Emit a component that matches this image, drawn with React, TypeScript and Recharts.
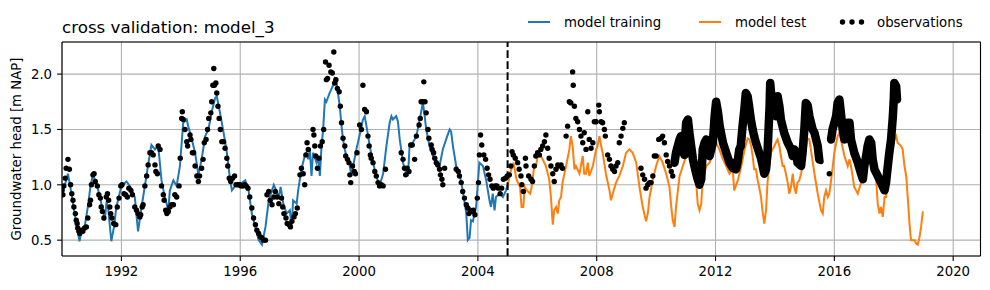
import React from 'react';
import { ComposedChart, Line, Scatter, XAxis, YAxis, CartesianGrid, ReferenceLine } from 'recharts';

// simulated heads (decimal year, m NAP)
const trainingSim: [number, number][] = [
  [1990.0, 0.9], [1990.1, 1.0], [1990.2, 1.1], [1990.3, 0.95], [1990.45, 0.7], [1990.59, 0.49], [1990.65, 0.58],
  [1990.75, 0.6], [1990.87, 0.8], [1990.96, 0.99], [1991.04, 1.09], [1991.15, 1.02], [1991.25, 0.92], [1991.35, 0.8],
  [1991.44, 0.68], [1991.5, 0.85], [1991.55, 0.8], [1991.66, 0.49], [1991.75, 0.62], [1991.83, 0.8], [1992.0, 0.99],
  [1992.17, 1.03], [1992.28, 0.99], [1992.45, 0.89], [1992.56, 0.58], [1992.68, 0.8], [1992.79, 0.99], [1992.9, 1.18],
  [1993.01, 1.36], [1993.13, 1.32], [1993.24, 1.35], [1993.35, 1.04], [1993.46, 0.89], [1993.58, 0.77], [1993.63, 0.95],
  [1993.75, 1.04], [1993.86, 0.99], [1993.97, 1.17], [1994.08, 1.56], [1994.2, 1.59], [1994.25, 1.53], [1994.37, 1.41],
  [1994.48, 1.29], [1994.59, 1.09], [1994.7, 1.23], [1994.82, 1.44], [1994.93, 1.5], [1995.04, 1.66], [1995.15, 1.78],
  [1995.21, 1.8], [1995.32, 1.65], [1995.44, 1.47], [1995.55, 1.29], [1995.66, 1.04], [1995.72, 0.95], [1995.83, 0.99],
  [1996.06, 1.02], [1996.17, 1.04], [1996.28, 0.95], [1996.39, 0.74], [1996.51, 0.62], [1996.62, 0.5], [1996.73, 0.46],
  [1996.85, 0.62], [1996.96, 0.86], [1997.13, 1.0], [1997.3, 0.89], [1997.36, 0.98], [1997.45, 0.83], [1997.56, 0.74],
  [1997.67, 0.77], [1997.73, 0.62], [1997.78, 0.86], [1997.9, 0.83], [1997.95, 0.95], [1998.06, 1.14], [1998.17, 1.26],
  [1998.23, 1.29], [1998.29, 1.23], [1998.34, 1.32], [1998.4, 1.08], [1998.45, 1.29], [1998.57, 1.2], [1998.62, 1.26],
  [1998.68, 1.08], [1998.73, 1.32], [1998.79, 1.5], [1998.85, 1.77], [1998.9, 1.75], [1999.01, 1.83], [1999.13, 1.9],
  [1999.18, 1.96], [1999.24, 1.93], [1999.29, 1.83], [1999.35, 1.71], [1999.41, 1.53], [1999.46, 1.41], [1999.52, 1.32],
  [1999.57, 1.26], [1999.69, 1.17], [1999.74, 1.08], [1999.8, 1.17], [1999.91, 1.32], [2000.02, 1.45], [2000.13, 1.59],
  [2000.19, 1.62], [2000.25, 1.53], [2000.36, 1.35], [2000.47, 1.2], [2000.58, 1.08], [2000.69, 0.99], [2000.81, 1.1],
  [2000.92, 1.35], [2001.03, 1.56], [2001.09, 1.62], [2001.14, 1.59], [2001.25, 1.62], [2001.31, 1.57], [2001.37, 1.41],
  [2001.48, 1.2], [2001.59, 1.1], [2001.65, 1.09], [2001.7, 1.35], [2001.81, 1.38], [2001.93, 1.44], [2002.04, 1.59],
  [2002.15, 1.74], [2002.21, 1.62], [2002.26, 1.5], [2002.37, 1.35], [2002.49, 1.26], [2002.6, 1.2], [2002.71, 1.17],
  [2002.82, 1.32], [2002.93, 1.41], [2003.05, 1.5], [2003.1, 1.48], [2003.16, 1.35], [2003.27, 1.17], [2003.38, 1.1],
  [2003.49, 0.95], [2003.61, 0.74], [2003.66, 0.5], [2003.72, 0.52], [2003.77, 0.68], [2003.83, 0.67], [2003.94, 0.8],
  [2004.05, 1.2], [2004.17, 1.17], [2004.28, 1.04], [2004.39, 0.86], [2004.44, 0.8], [2004.5, 0.92], [2004.56, 0.77],
  [2004.61, 0.89], [2004.73, 0.92], [2004.84, 0.89], [2004.95, 0.95], [2005.0, 1.0],
];

const testSim: [number, number][] = [
  [2005.0, 0.98], [2005.08, 1.1], [2005.2, 1.2], [2005.3, 1.05], [2005.42, 0.98], [2005.47, 0.8], [2005.53, 0.8],
  [2005.58, 0.98], [2005.65, 0.95], [2005.76, 0.92], [2005.81, 0.98], [2005.84, 1.05], [2005.9, 1.17], [2005.96, 1.17],
  [2006.01, 1.26], [2006.07, 1.29], [2006.18, 1.23], [2006.29, 1.17], [2006.4, 1.05], [2006.46, 0.89], [2006.52, 0.64],
  [2006.57, 0.77], [2006.63, 0.8], [2006.69, 0.74], [2006.74, 0.86], [2006.8, 0.89], [2006.85, 1.02], [2006.97, 1.17],
  [2007.08, 1.32], [2007.13, 1.44], [2007.19, 1.35], [2007.25, 1.14], [2007.3, 1.17], [2007.42, 1.1], [2007.53, 1.26],
  [2007.58, 1.1], [2007.64, 1.1], [2007.7, 1.2], [2007.75, 1.08], [2007.87, 1.17], [2007.98, 1.32], [2008.03, 1.35],
  [2008.09, 1.44], [2008.15, 1.35], [2008.2, 1.29], [2008.31, 1.1], [2008.43, 0.95], [2008.48, 0.86], [2008.54, 0.92],
  [2008.65, 1.02], [2008.76, 1.08], [2008.88, 1.17], [2008.99, 1.29], [2009.1, 1.32], [2009.21, 1.29], [2009.33, 1.2],
  [2009.44, 0.98], [2009.55, 0.8], [2009.66, 0.67], [2009.72, 0.74], [2009.78, 0.89], [2009.89, 1.05], [2010.0, 1.17],
  [2010.11, 1.26], [2010.22, 1.2], [2010.34, 1.1], [2010.45, 0.98], [2010.51, 0.8], [2010.56, 0.68], [2010.62, 0.62],
  [2010.67, 0.8], [2010.79, 1.08], [2010.9, 1.17], [2011.01, 1.26], [2011.12, 1.27], [2011.24, 1.17], [2011.35, 1.02],
  [2011.4, 0.83], [2011.46, 0.77], [2011.52, 0.83], [2011.57, 1.05], [2011.69, 1.17], [2011.8, 1.2], [2011.91, 1.29],
  [2012.02, 1.38], [2012.13, 1.32], [2012.25, 1.23], [2012.36, 1.17], [2012.47, 1.1], [2012.58, 1.14], [2012.63, 0.95],
  [2012.75, 1.04], [2012.87, 1.17], [2012.98, 1.32], [2013.08, 1.42], [2013.14, 1.41], [2013.2, 1.35], [2013.25, 1.26],
  [2013.3, 1.14], [2013.36, 1.14], [2013.42, 1.04], [2013.47, 0.98], [2013.53, 0.89], [2013.58, 0.77], [2013.64, 0.65],
  [2013.7, 0.77], [2013.75, 1.02], [2013.81, 1.17], [2013.87, 1.29], [2013.92, 1.32], [2013.98, 1.35], [2014.03, 1.38],
  [2014.09, 1.41], [2014.15, 1.35], [2014.2, 1.26], [2014.26, 1.17], [2014.31, 1.17], [2014.37, 1.1], [2014.43, 1.02],
  [2014.48, 0.92], [2014.54, 0.98], [2014.6, 1.1], [2014.65, 0.98], [2014.71, 0.92], [2014.76, 1.02], [2014.82, 1.04],
  [2014.88, 1.1], [2014.99, 1.26], [2015.1, 1.42], [2015.16, 1.41], [2015.21, 1.32], [2015.33, 1.1], [2015.44, 0.92],
  [2015.55, 0.77], [2015.61, 0.74], [2015.66, 0.89], [2015.72, 0.95], [2015.78, 0.89], [2015.83, 0.92], [2015.89, 1.04],
  [2016.0, 1.29], [2016.11, 1.44], [2016.17, 1.47], [2016.22, 1.41], [2016.34, 1.26], [2016.45, 1.17], [2016.51, 1.23],
  [2016.56, 1.17], [2016.67, 0.98], [2016.79, 0.92], [2016.9, 1.02], [2017.01, 1.1], [2017.12, 1.26], [2017.24, 1.32],
  [2017.35, 1.2], [2017.4, 1.08], [2017.46, 0.83], [2017.52, 0.74], [2017.57, 0.8], [2017.63, 0.71], [2017.69, 0.89],
  [2017.74, 0.89], [2017.8, 1.02], [2017.91, 1.23], [2018.02, 1.41], [2018.08, 1.44], [2018.13, 1.38], [2018.25, 1.35],
  [2018.3, 1.32], [2018.36, 1.17], [2018.42, 1.08], [2018.47, 0.89], [2018.53, 0.65], [2018.58, 0.5], [2018.7, 0.5],
  [2018.75, 0.47], [2018.81, 0.46], [2018.87, 0.53], [2018.92, 0.62], [2018.98, 0.76],
];

// manual observations (roughly fortnightly)
const observations: [number, number][] = [
  [1990.0, 0.95], [1990.03, 0.91], [1990.06, 0.99], [1990.11, 1.06], [1990.14, 1.15], [1990.2, 1.23], [1990.25, 1.14],
  [1990.29, 1.0], [1990.33, 0.92], [1990.37, 0.86], [1990.4, 0.8], [1990.45, 0.74], [1990.48, 0.68], [1990.51, 0.65],
  [1990.53, 0.61], [1990.57, 0.58], [1990.6, 0.56], [1990.65, 0.59], [1990.7, 0.58], [1990.76, 0.61], [1990.82, 0.62],
  [1990.87, 0.7], [1990.93, 0.82], [1990.96, 0.86], [1990.99, 1.0], [1991.04, 1.09], [1991.08, 1.1], [1991.12, 1.03],
  [1991.19, 0.99], [1991.24, 0.91], [1991.29, 0.88], [1991.32, 0.8], [1991.36, 0.76], [1991.41, 0.7], [1991.49, 0.89],
  [1991.53, 0.92], [1991.57, 0.86], [1991.61, 0.8], [1991.64, 0.74], [1991.68, 0.7], [1991.74, 0.65], [1991.81, 0.64],
  [1991.86, 0.8], [1991.92, 0.88], [1991.98, 0.99], [1992.02, 1.0], [1992.09, 0.92], [1992.14, 0.91], [1992.2, 0.89],
  [1992.25, 0.97], [1992.32, 0.95], [1992.37, 0.91], [1992.45, 0.8], [1992.51, 0.77], [1992.56, 0.74], [1992.62, 0.71],
  [1992.65, 0.73], [1992.7, 0.8], [1992.73, 0.82], [1992.79, 0.99], [1992.85, 1.08], [1992.9, 1.18], [1992.96, 1.29],
  [1993.01, 1.29], [1993.07, 1.27], [1993.13, 1.18], [1993.16, 1.12], [1993.21, 1.1], [1993.24, 1.35], [1993.3, 1.32],
  [1993.35, 0.99], [1993.41, 0.91], [1993.44, 0.86], [1993.49, 0.77], [1993.53, 0.74], [1993.58, 0.76], [1993.63, 0.8],
  [1993.69, 0.82], [1993.75, 0.82], [1993.8, 0.91], [1993.86, 0.89], [1993.94, 0.99], [1993.98, 1.24], [1994.03, 1.6],
  [1994.05, 1.66], [1994.08, 1.59], [1994.14, 1.5], [1994.2, 1.39], [1994.23, 1.35], [1994.31, 1.45], [1994.34, 1.41],
  [1994.39, 1.29], [1994.43, 1.29], [1994.48, 1.17], [1994.54, 1.08], [1994.59, 1.03], [1994.63, 1.08], [1994.7, 1.15],
  [1994.75, 1.23], [1994.79, 1.38], [1994.85, 1.41], [1994.9, 1.5], [1994.94, 1.6], [1995.01, 1.65], [1995.04, 1.75],
  [1995.08, 1.9], [1995.11, 2.05], [1995.13, 1.9], [1995.18, 1.92], [1995.21, 1.83], [1995.25, 1.71], [1995.29, 1.6],
  [1995.33, 1.5], [1995.38, 1.39], [1995.44, 1.39], [1995.49, 1.33], [1995.55, 1.24], [1995.58, 1.17], [1995.63, 1.06],
  [1995.68, 1.03], [1995.74, 1.06], [1995.81, 1.08], [1995.86, 1.0], [1995.92, 1.0], [1995.98, 1.0], [1996.03, 0.99],
  [1996.09, 0.99], [1996.15, 1.0], [1996.2, 0.99], [1996.26, 0.97], [1996.32, 0.89], [1996.39, 0.79], [1996.45, 0.7],
  [1996.51, 0.64], [1996.56, 0.59], [1996.62, 0.56], [1996.68, 0.53], [1996.73, 0.52], [1996.79, 0.5], [1996.85, 0.5],
  [1996.9, 0.91], [1996.96, 0.94], [1997.01, 0.86], [1997.07, 0.82], [1997.13, 0.89], [1997.18, 0.94], [1997.24, 0.89],
  [1997.3, 0.83], [1997.39, 0.88], [1997.43, 0.8], [1997.47, 0.74], [1997.54, 0.7], [1997.58, 0.65], [1997.65, 0.64],
  [1997.69, 0.62], [1997.74, 0.67], [1997.81, 0.71], [1997.86, 0.74], [1997.92, 0.79], [1998.01, 1.09], [1998.06, 1.15],
  [1998.12, 1.1], [1998.17, 1.0], [1998.21, 1.27], [1998.25, 1.38], [1998.29, 1.32], [1998.45, 1.5], [1998.48, 1.45],
  [1998.51, 1.35], [1998.54, 1.26], [1998.6, 1.15], [1998.65, 1.24], [1998.7, 1.35], [1998.76, 1.39], [1998.81, 1.5],
  [1998.87, 2.11], [1998.9, 1.95], [1998.94, 1.96], [1998.99, 2.08], [1999.05, 2.02], [1999.1, 2.01], [1999.15, 2.2],
  [1999.18, 1.92], [1999.22, 1.95], [1999.27, 1.87], [1999.33, 1.84], [1999.37, 1.71], [1999.41, 1.56], [1999.46, 1.42],
  [1999.52, 1.35], [1999.55, 1.26], [1999.61, 1.23], [1999.66, 1.2], [1999.69, 1.09], [1999.72, 1.02], [1999.78, 1.17],
  [1999.84, 1.12], [1999.88, 1.1], [1999.93, 1.29], [2000.02, 1.54], [2000.08, 1.5], [2000.13, 1.9], [2000.19, 1.68],
  [2000.25, 1.66], [2000.3, 1.44], [2000.34, 1.35], [2000.38, 1.27], [2000.41, 1.24], [2000.47, 1.2], [2000.53, 1.12],
  [2000.58, 1.08], [2000.64, 1.02], [2000.69, 0.99], [2000.75, 1.0], [2000.81, 0.99], [2000.89, 1.14], [2001.42, 1.29],
  [2001.48, 1.23], [2001.53, 1.15], [2001.57, 1.09], [2001.62, 1.15], [2001.68, 1.12], [2001.74, 1.36], [2001.79, 1.36],
  [2001.87, 1.23], [2001.93, 1.44], [2002.02, 1.54], [2002.06, 1.6], [2002.09, 1.75], [2002.14, 1.75], [2002.18, 1.93],
  [2002.22, 1.75], [2002.26, 1.65], [2002.32, 1.5], [2002.35, 1.42], [2002.43, 1.36], [2002.46, 1.32], [2002.51, 1.29],
  [2002.55, 1.24], [2002.6, 1.2], [2002.65, 1.18], [2002.71, 1.14], [2002.74, 1.09], [2002.79, 1.05], [2002.82, 1.0],
  [2002.88, 1.15], [2003.27, 1.14], [2003.34, 1.12], [2003.38, 1.08], [2003.44, 1.02], [2003.49, 0.94], [2003.55, 0.88],
  [2003.61, 0.82], [2003.66, 0.79], [2003.7, 0.74], [2003.74, 0.77], [2003.81, 0.76], [2003.85, 0.77], [2003.9, 0.73],
  [2003.98, 0.88], [2004.02, 1.02], [2004.05, 1.27], [2004.09, 1.45], [2004.13, 1.36], [2004.2, 1.27], [2004.26, 1.23],
  [2004.31, 1.15], [2004.36, 1.09], [2004.41, 1.05], [2004.47, 0.99], [2004.52, 0.97], [2004.58, 0.99], [2004.64, 0.99],
  [2004.69, 0.97], [2004.75, 0.92], [2004.8, 0.97], [2004.86, 1.05], [2004.93, 1.06], [2004.99, 1.08], [2005.06, 1.09],
  [2005.11, 1.17], [2005.15, 1.3], [2005.19, 1.27], [2005.26, 1.24], [2005.34, 1.2], [2005.39, 1.14], [2005.45, 1.08],
  [2005.48, 1.0], [2005.53, 0.94], [2005.6, 1.24], [2005.62, 1.17], [2005.71, 1.08], [2005.79, 1.05], [2005.84, 1.03],
  [2005.9, 1.17], [2005.95, 1.26], [2006.01, 1.29], [2006.07, 1.27], [2006.12, 1.32], [2006.18, 1.35], [2006.24, 1.39],
  [2006.29, 1.45], [2006.35, 1.33], [2006.4, 1.24], [2006.46, 1.17], [2006.52, 1.1], [2006.57, 1.03], [2006.63, 1.14],
  [2006.69, 1.18], [2006.74, 1.17], [2006.8, 1.18], [2006.85, 1.15], [2006.97, 1.44], [2007.02, 1.53], [2007.08, 1.75],
  [2007.13, 1.74], [2007.19, 2.02], [2007.21, 1.9], [2007.25, 1.71], [2007.3, 1.6], [2007.36, 1.57], [2007.42, 1.5],
  [2007.47, 1.44], [2007.53, 1.38], [2007.58, 1.47], [2007.64, 1.32], [2007.7, 1.66], [2007.75, 1.41], [2007.81, 1.33],
  [2007.87, 1.38], [2007.92, 1.57], [2007.98, 1.57], [2008.07, 1.72], [2008.09, 1.66], [2008.15, 1.57], [2008.2, 1.56],
  [2008.26, 1.5], [2008.29, 1.44], [2008.37, 1.27], [2008.43, 1.23], [2008.48, 1.17], [2008.54, 1.14], [2008.6, 1.12],
  [2008.65, 1.17], [2008.71, 1.2], [2008.76, 1.38], [2008.82, 1.44], [2008.88, 1.51], [2008.93, 1.56], [2009.49, 1.15],
  [2009.55, 1.09], [2009.61, 1.05], [2009.66, 0.97], [2009.72, 1.0], [2009.78, 1.02], [2009.83, 1.02], [2009.89, 1.08],
  [2009.94, 1.26], [2010.0, 1.26], [2010.09, 1.41], [2010.17, 1.42], [2010.22, 1.44], [2010.28, 1.38], [2010.34, 1.27],
  [2010.39, 1.21], [2010.45, 1.17], [2010.51, 1.12], [2010.56, 1.08], [2015.55, 1.21], [2015.83, 1.1],
];

// daily logger observations, drawn as a continuous band
const loggerA: [number, number][] = [
  [2010.62, 1.2], [2010.67, 1.29], [2010.79, 1.41], [2010.84, 1.44], [2010.9, 1.32], [2010.95, 1.27], [2011.01, 1.56],
  [2011.07, 1.59], [2011.12, 1.47], [2011.18, 1.35], [2011.24, 1.23], [2011.29, 1.17], [2011.35, 1.1], [2011.4, 1.05],
  [2011.46, 1.0], [2011.52, 1.05], [2011.57, 1.32], [2011.63, 1.38], [2011.69, 1.41], [2011.74, 1.32], [2011.8, 1.26],
  [2011.91, 1.38], [2011.97, 1.62], [2012.02, 1.75], [2012.08, 1.66], [2012.14, 1.53], [2012.25, 1.38], [2012.36, 1.29],
  [2012.47, 1.2], [2012.58, 1.15], [2012.63, 1.2], [2012.69, 1.14], [2012.74, 1.2], [2012.8, 1.32], [2012.85, 1.35],
  [2012.91, 1.53], [2012.97, 1.68], [2013.02, 1.83], [2013.08, 1.8], [2013.13, 1.71], [2013.19, 1.59], [2013.25, 1.5],
  [2013.3, 1.44], [2013.36, 1.38], [2013.42, 1.33], [2013.53, 1.24], [2013.58, 1.18], [2013.64, 1.1], [2013.7, 1.14],
  [2013.75, 1.29], [2013.79, 1.53], [2013.82, 1.71], [2013.84, 1.92], [2013.89, 1.77], [2013.95, 1.68], [2014.03, 1.62],
  [2014.09, 1.8], [2014.15, 1.71], [2014.2, 1.59], [2014.31, 1.47], [2014.43, 1.38], [2014.54, 1.32], [2014.6, 1.26],
  [2014.65, 1.32], [2014.71, 1.3], [2014.76, 1.2], [2014.88, 1.17], [2014.93, 1.29], [2014.99, 1.5], [2015.04, 1.74],
  [2015.1, 1.72], [2015.16, 1.62], [2015.27, 1.5], [2015.33, 1.47], [2015.44, 1.35], [2015.49, 1.23],
];

const loggerB: [number, number][] = [
  [2015.89, 1.41], [2015.94, 1.5], [2016.06, 1.62], [2016.11, 1.74], [2016.17, 1.77], [2016.22, 1.65], [2016.28, 1.5],
  [2016.34, 1.41], [2016.45, 1.56], [2016.51, 1.56], [2016.56, 1.41], [2016.67, 1.29], [2016.79, 1.2], [2016.9, 1.1],
  [2016.96, 1.05], [2017.01, 1.17], [2017.07, 1.26], [2017.12, 1.35], [2017.18, 1.41], [2017.24, 1.38], [2017.29, 1.23],
  [2017.35, 1.14], [2017.46, 1.08], [2017.57, 1.02], [2017.69, 0.95], [2017.74, 1.02], [2017.8, 1.17], [2017.85, 1.29],
  [2017.91, 1.41], [2017.97, 1.62], [2018.0, 1.77], [2018.02, 1.92], [2018.08, 1.89], [2018.11, 1.77],
];

const xTicks = [1992, 1996, 2000, 2004, 2008, 2012, 2016, 2020];
const yTicks = [0.5, 1.0, 1.5, 2.0];
const splitYear = 2005.0;
const xDomain: [number, number] = [1990.0, 2020.92];
const yDomain: [number, number] = [0.357, 2.29];

const toPts = (arr: [number, number][]) => arr.map(([x, y]) => ({ x, y }));

const FONT = 'DejaVu Sans, sans-serif';
const BLUE = '#1f77b4';
const ORANGE = '#ff7f0e';

const Dot = (props: any) => <circle cx={props.cx} cy={props.cy} r={2.7} fill="#000" />;

export default function App() {
  return (
    <div style={{ position: 'absolute', left: 0, top: 0, width: 990, height: 290, background: '#fff' }}>
      <ComposedChart width={990} height={290} margin={{ top: 42, right: 9.5, bottom: 4, left: 0 }}>
        <CartesianGrid stroke="#b0b0b0" strokeWidth={1.1} />
        <XAxis
          type="number"
          dataKey="x"
          domain={xDomain}
          ticks={xTicks}
          allowDataOverflow
          height={30}
          tickSize={4.9}
          tickMargin={5.6}
          axisLine={{ stroke: '#000', strokeWidth: 1.1 }}
          tickLine={{ stroke: '#000', strokeWidth: 1.1 }}
          tick={{ fill: '#000', fontSize: 13.3, fontFamily: FONT }}
        />
        <YAxis
          type="number"
          dataKey="y"
          domain={yDomain}
          ticks={yTicks}
          allowDataOverflow
          width={62}
          tickSize={4.9}
          tickMargin={5}
          tickFormatter={(v: number) => v.toFixed(1)}
          axisLine={{ stroke: '#000', strokeWidth: 1.1 }}
          tickLine={{ stroke: '#000', strokeWidth: 1.1 }}
          tick={{ fill: '#000', fontSize: 13.3, fontFamily: FONT }}
        />
        <ReferenceLine x={xDomain[1]} stroke="#000" strokeWidth={1.1} />
        <ReferenceLine y={yDomain[1]} stroke="#000" strokeWidth={1.1} />
        <Line data={toPts(trainingSim)} dataKey="y" type="linear" stroke={BLUE} strokeWidth={2} dot={false} isAnimationActive={false} />
        <Line data={toPts(testSim)} dataKey="y" type="linear" stroke={ORANGE} strokeWidth={2} dot={false} isAnimationActive={false} />
        <Scatter data={toPts(observations)} shape={Dot} isAnimationActive={false} />
        <Line data={toPts(loggerA)} dataKey="y" stroke="#000" strokeWidth={8.5} strokeLinejoin="round" strokeLinecap="round" dot={false} isAnimationActive={false} />
        <Line data={toPts(loggerB)} dataKey="y" stroke="#000" strokeWidth={8.5} strokeLinejoin="round" strokeLinecap="round" dot={false} isAnimationActive={false} />
        <ReferenceLine x={splitYear} stroke="#000" strokeWidth={2} strokeDasharray="7.7 3.3" />
      </ComposedChart>
      <svg width={990} height={290} style={{ position: 'absolute', left: 0, top: 0, pointerEvents: 'none' }} fontFamily={FONT}>
        <text x={62} y={33.3} fontSize={16.7} fill="#000">cross validation: model_3</text>
        <text transform="translate(21,149) rotate(-90)" textAnchor="middle" fontSize={13.3} fill="#000">Groundwater head [m NAP]</text>
        <line x1={528} x2={550} y1={22} y2={22} stroke={BLUE} strokeWidth={2} />
        <text x={564} y={26.7} fontSize={13.3} fill="#000">model training</text>
        <line x1={699} x2={721} y1={22} y2={22} stroke={ORANGE} strokeWidth={2} />
        <text x={735} y={26.7} fontSize={13.3} fill="#000">model test</text>
        <circle cx={842.5} cy={22} r={2.7} fill="#000" />
        <circle cx={852} cy={22} r={2.7} fill="#000" />
        <circle cx={861.5} cy={22} r={2.7} fill="#000" />
        <text x={877} y={26.7} fontSize={13.3} fill="#000">observations</text>
      </svg>
    </div>
  );
}
